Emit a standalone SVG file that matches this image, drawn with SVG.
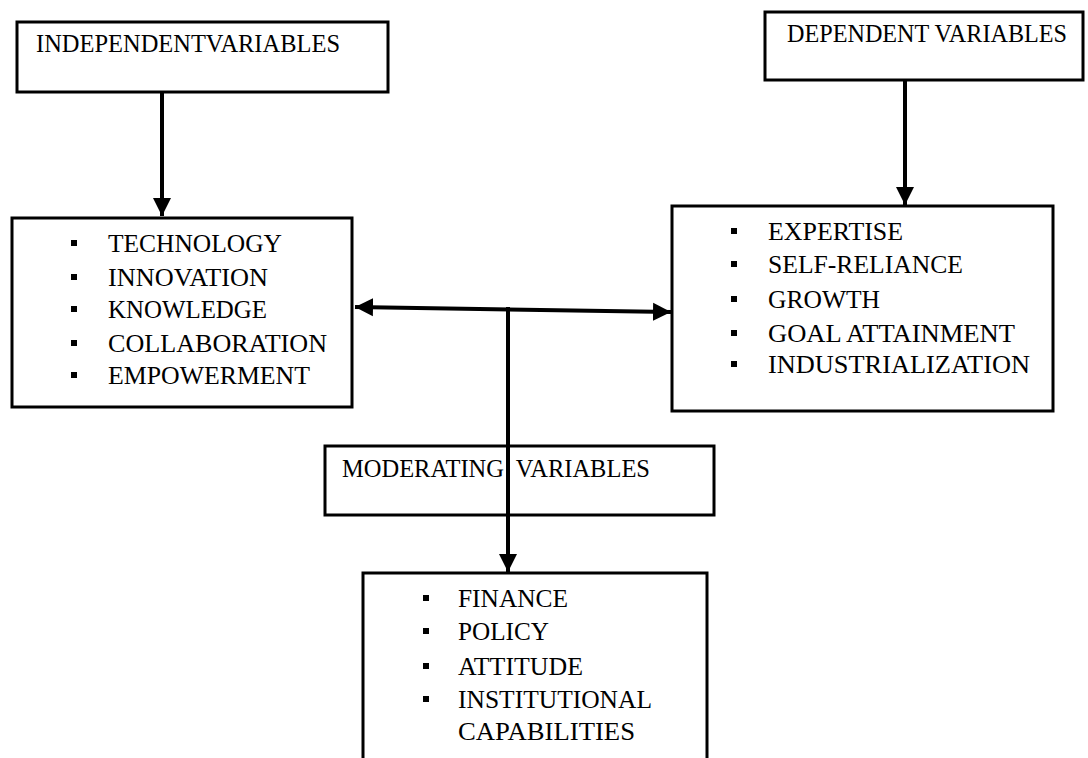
<svg xmlns="http://www.w3.org/2000/svg" width="1088" height="758" viewBox="0 0 1088 758">
<style>
.box{fill:#fff;stroke:#000;stroke-width:3}
.t{font-family:'Liberation Serif','Tinos','DejaVu Serif','Times New Roman',serif;font-size:25px;fill:#000}
.b{fill:#000}
.c{stroke:#000;stroke-width:4;fill:none}
</style>
<defs>
<marker id="ah" markerUnits="userSpaceOnUse" markerWidth="20" markerHeight="20" refX="18" refY="9" orient="auto-start-reverse" viewBox="0 0 20 18">
<path d="M0,0 L18,9 L0,18 Z" fill="#000"/>
</marker>
</defs>
<rect width="1088" height="758" fill="#fff"/>
<g id="independent-header">
<rect class="box" x="17" y="22" width="371" height="70"/>
<text class="t" font-family="Liberation Serif, DejaVu Serif, serif" x="36" y="52" textLength="304" lengthAdjust="spacingAndGlyphs">INDEPENDENTVARIABLES</text>
</g>
<g id="dependent-header">
<rect class="box" x="765" y="12" width="318" height="68"/>
<text class="t" font-family="Liberation Serif, DejaVu Serif, serif" x="787" y="42" textLength="280" lengthAdjust="spacingAndGlyphs">DEPENDENT VARIABLES</text>
</g>
<g id="independent-list">
<rect class="box" x="12" y="218" width="340" height="189"/>
<rect class="b" x="71" y="240" width="6" height="6"/>
<rect class="b" x="71" y="274" width="6" height="6"/>
<rect class="b" x="71" y="306" width="6" height="6"/>
<rect class="b" x="71" y="340" width="6" height="6"/>
<rect class="b" x="71" y="372" width="6" height="6"/>
<text class="t" x="108" y="252" textLength="174" lengthAdjust="spacingAndGlyphs">TECHNOLOGY</text>
<text class="t" x="108" y="286" textLength="160" lengthAdjust="spacingAndGlyphs">INNOVATION</text>
<text class="t" x="108" y="318" textLength="159" lengthAdjust="spacingAndGlyphs">KNOWLEDGE</text>
<text class="t" x="108" y="352" textLength="219" lengthAdjust="spacingAndGlyphs">COLLABORATION</text>
<text class="t" x="108" y="384" textLength="202" lengthAdjust="spacingAndGlyphs">EMPOWERMENT</text>
</g>
<g id="dependent-list">
<rect class="box" x="672" y="206" width="381" height="205"/>
<rect class="b" x="731" y="228" width="6" height="6"/>
<rect class="b" x="731" y="261" width="6" height="6"/>
<rect class="b" x="731" y="296" width="6" height="6"/>
<rect class="b" x="731" y="330" width="6" height="6"/>
<rect class="b" x="731" y="361" width="6" height="6"/>
<text class="t" x="768" y="240" textLength="135" lengthAdjust="spacingAndGlyphs">EXPERTISE</text>
<text class="t" x="768" y="273" textLength="195" lengthAdjust="spacingAndGlyphs">SELF-RELIANCE</text>
<text class="t" x="768" y="308" textLength="112" lengthAdjust="spacingAndGlyphs">GROWTH</text>
<text class="t" x="768" y="342" textLength="247" lengthAdjust="spacingAndGlyphs">GOAL ATTAINMENT</text>
<text class="t" x="768" y="373" textLength="262" lengthAdjust="spacingAndGlyphs">INDUSTRIALIZATION</text>
</g>
<g id="moderating-header">
<rect class="box" x="325" y="446" width="389" height="69"/>
<text class="t" x="342" y="477" textLength="308" lengthAdjust="spacingAndGlyphs" xml:space="preserve">MODERATING  VARIABLES</text>
</g>
<g id="moderating-list">
<rect class="box" x="363" y="573" width="344" height="200"/>
<rect class="b" x="423" y="595" width="6" height="6"/>
<rect class="b" x="423" y="628" width="6" height="6"/>
<rect class="b" x="423" y="663" width="6" height="6"/>
<rect class="b" x="423" y="696" width="6" height="6"/>
<text class="t" x="458" y="607" textLength="110" lengthAdjust="spacingAndGlyphs">FINANCE</text>
<text class="t" x="458" y="640" textLength="91" lengthAdjust="spacingAndGlyphs">POLICY</text>
<text class="t" x="458" y="675" textLength="125" lengthAdjust="spacingAndGlyphs">ATTITUDE</text>
<text class="t" x="458" y="708" textLength="194" lengthAdjust="spacingAndGlyphs">INSTITUTIONAL</text>
<text class="t" x="458" y="740" textLength="177" lengthAdjust="spacingAndGlyphs">CAPABILITIES</text>
</g>
<g id="connectors">
<line class="c" x1="162" y1="92" x2="162" y2="216" marker-end="url(#ah)"/>
<line class="c" x1="905" y1="80" x2="905" y2="205" marker-end="url(#ah)"/>
<line class="c" x1="355" y1="307" x2="671" y2="312" marker-start="url(#ah)" marker-end="url(#ah)"/>
<line class="c" x1="508" y1="307" x2="508" y2="572" marker-end="url(#ah)"/>
</g>
</svg>
